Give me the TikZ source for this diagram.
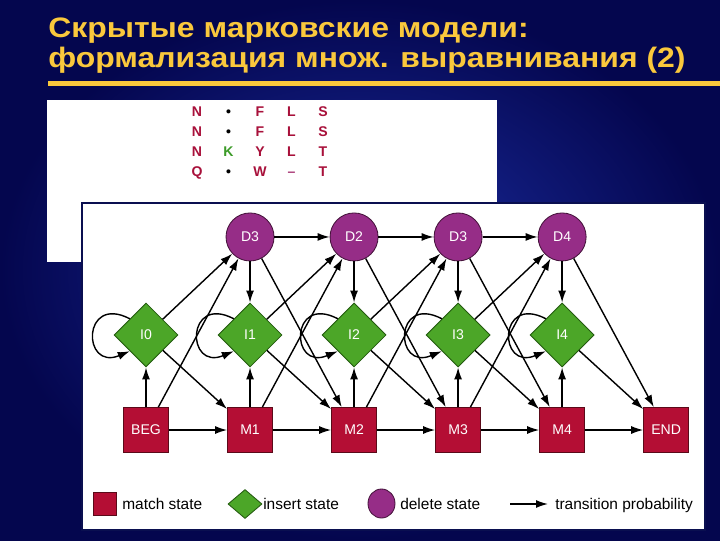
\documentclass[tikz,border=0pt]{standalone}
\usepackage{fontspec}
\setmainfont{Liberation Sans}
\usetikzlibrary{positioning,shapes.geometric,arrows.meta,matrix}

\definecolor{bgin}{RGB}{28,46,165}
\definecolor{bgout}{RGB}{4,6,78}
\definecolor{titleyellow}{RGB}{250,200,60}
\definecolor{matchred}{RGB}{180,14,52}
\definecolor{matchedge}{RGB}{90,10,25}
\definecolor{insertgreen}{RGB}{76,166,40}
\definecolor{insertedge}{RGB}{35,90,15}
\definecolor{deletepurple}{RGB}{150,45,135}
\definecolor{deleteedge}{RGB}{70,20,60}
\definecolor{aligncol}{RGB}{168,16,58}
\definecolor{alignk}{RGB}{60,155,40}
\definecolor{aligngap}{RGB}{170,60,120}
\definecolor{panelline}{RGB}{10,15,80}

\tikzset{
  statefont/.style={font=\fontsize{10}{12}\selectfont},
  match/.style={rectangle, draw=matchedge, fill=matchred, text=white, line width=0.6pt,
    minimum size=1.125cm, inner sep=0pt, on grid, statefont},
  insert/.style={diamond, draw=insertedge, fill=insertgreen, text=white, line width=0.6pt,
    minimum width=1.6cm, minimum height=1.6cm, inner sep=0pt, on grid, statefont},
  delete/.style={circle, draw=deleteedge, fill=deletepurple, text=white, line width=0.6pt,
    minimum size=1.2cm, inner sep=0pt, on grid, statefont},
  trans/.style={draw=black, line width=1pt, -{Latex[length=3mm,width=2mm]}},
  legendtext/.style={anchor=base west, inner sep=0pt, font=\fontsize{11}{13}\selectfont},
  titletext/.style={anchor=base west, inner sep=0pt, text=titleyellow,
    font=\bfseries\fontsize{20}{24}\selectfont},
}

\begin{document}
\begin{tikzpicture}[x=0.025cm, y=-0.025cm]
  \useasboundingbox (0,0) rectangle (720,540);
  \shade[inner color=bgin, outer color=bgout] (0,0) rectangle (720,540);

  \node[titletext] (title1) at (48,37) {\scalebox{1.135}[1]{Скрытые марковские модели:}};
  \node[titletext] (title2) at (48,67.5) {\scalebox{1.135}[1]{формализация множ. выравнивания (2)}};
  \draw[titleyellow, line width=0.125cm] (48,83) -- (720,83);

  \fill[white] (47,100) rectangle (497,262);
  \filldraw[fill=white, draw=panelline, line width=1.2pt] (82,203) rectangle (705,530);

  \matrix (aln) [matrix of nodes, column sep=0pt, row sep=0pt,
    nodes={text=aligncol, minimum width=0.7875cm, minimum height=0.5cm, inner sep=0pt,
      text height=7.2pt, text depth=0pt, anchor=center,
      font=\bfseries\fontsize{10}{12}\selectfont}] at (260,141) {
    N & |[text=black]| • & F & L & S\\
    N & |[text=black]| • & F & L & S\\
    N & |[text=alignk]| K & Y & L & T\\
    Q & |[text=black]| • & W & |[text=aligngap]| – & T\\
  };

  \node[match] (beg) at (146,430) {BEG};
  \node[match, right=2.6cm of beg] (m1) {M1};
  \node[match, right=2.6cm of m1] (m2) {M2};
  \node[match, right=2.6cm of m2] (m3) {M3};
  \node[match, right=2.6cm of m3] (m4) {M4};
  \node[match, right=2.6cm of m4] (fin) {END};

  \node[insert, above=2.375cm of beg] (i0) {I0};
  \node[insert, above=2.375cm of m1] (i1) {I1};
  \node[insert, above=2.375cm of m2] (i2) {I2};
  \node[insert, above=2.375cm of m3] (i3) {I3};
  \node[insert, above=2.375cm of m4] (i4) {I4};

  \node[delete, above=2.45cm of i1] (d1) {D3};
  \node[delete, above=2.45cm of i2] (d2) {D2};
  \node[delete, above=2.45cm of i3] (d3) {D3};
  \node[delete, above=2.45cm of i4] (d4) {D4};

  \path[trans] (beg) edge (m1) edge (i0) edge (d1);
  \path[trans] (i0) edge (m1) edge (d1);
  \path[trans] (d1) edge (d2) edge (i1) edge (m2);
  \path[trans] (m1) edge (m2) edge (i1) edge (d2);
  \path[trans] (i1) edge (m2) edge (d2);
  \path[trans] (d2) edge (d3) edge (i2) edge (m3);
  \path[trans] (m2) edge (m3) edge (i2) edge (d3);
  \path[trans] (i2) edge (m3) edge (d3);
  \path[trans] (d3) edge (d4) edge (i3) edge (m4);
  \path[trans] (m3) edge (m4) edge (i3) edge (d4);
  \path[trans] (i3) edge (m4) edge (d4);
  \path[trans] (d4) edge (i4) edge (fin);
  \path[trans] (m4) edge (fin) edge (i4);
  \path[trans] (i4) edge (fin);

  \draw[trans] (i0.135) .. controls +(-48,-25) and +(-48,20) .. (i0.225);
  \draw[trans] (i1.135) .. controls +(-48,-25) and +(-48,20) .. (i1.225);
  \draw[trans] (i2.135) .. controls +(-48,-25) and +(-48,20) .. (i2.225);
  \draw[trans] (i3.135) .. controls +(-48,-25) and +(-48,20) .. (i3.225);
  \draw[trans] (i4.135) .. controls +(-48,-25) and +(-48,20) .. (i4.225);

  \node[match, minimum size=0.575cm] (lgmatch) at (104.5,503.5) {};
  \node[legendtext] (lgmatchtext) at (122,509) {match state};
  \node[insert, minimum width=0.85cm, minimum height=0.725cm] (lginsert) at (245,504) {};
  \node[legendtext] (lginserttext) at (263,509) {insert state};
  \node[delete, ellipse, minimum width=0.675cm, minimum height=0.725cm] (lgdelete) at (381.5,503.5) {};
  \node[legendtext] (lgdeletetext) at (400,509) {delete state};
  \coordinate (lgfrom) at (510,504);
  \coordinate (lgto) at (548,504);
  \draw[trans] (lgfrom) -- (lgto);
  \node[legendtext] (lgtranstext) at (555,509) {transition probability};
\end{tikzpicture}
\end{document}
